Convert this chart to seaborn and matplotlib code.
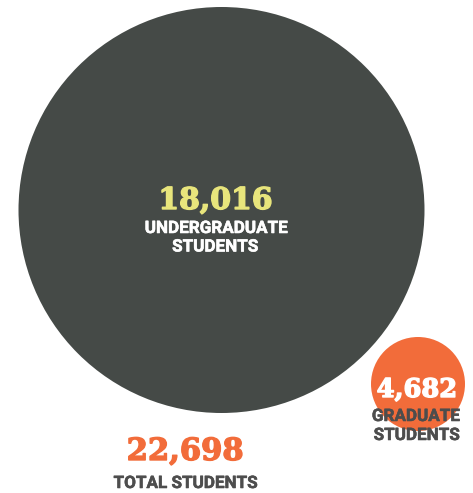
import matplotlib
matplotlib.use("Agg")
import matplotlib.pyplot as plt
import matplotlib.patheffects as pe
import seaborn as sns
import pandas as pd

# ---- data ----
groups = ["Undergraduate", "Graduate"]
counts = [18016, 4682]
total = 22698
number_labels = ["18,016", "4,682"]
sub_labels = ["UNDERGRADUATE\nSTUDENTS", "GRADUATE\nSTUDENTS"]
total_label = "22,698"
total_sub = "TOTAL STUDENTS"

# ---- layout / style (pixels in a 473x493 canvas) ----
W, H = 473, 493
centers = {"Undergraduate": (221.5, 210), "Graduate": (418, 384)}
radii = {"Undergraduate": 203, "Graduate": 47}
palette = {"Undergraduate": "#454a47", "Graduate": "#f26c3a"}
px2pt = 72 / 100

df = pd.DataFrame({"group": groups, "count": counts})
df["x"] = df["group"].map(lambda g: centers[g][0])
df["y"] = df["group"].map(lambda g: centers[g][1])
size_map = {c: (2 * radii[g] * px2pt) ** 2 for g, c in zip(groups, counts)}

sns.set_theme(style="white")
fig = plt.figure(figsize=(W / 100, H / 100), dpi=100)
fig.patch.set_facecolor("white")
ax = fig.add_axes([0, 0, 1, 1])
sns.scatterplot(data=df, x="x", y="y", hue="group", palette=palette,
                size="count", sizes=size_map, legend=False, linewidth=0,
                ax=ax, zorder=2)
ax.set_xlim(0, W)
ax.set_ylim(H, 0)
ax.set_axis_off()

num_font = dict(family=["DejaVu Serif"], weight="bold")
lab_font = dict(family=["Roboto", "DejaVu Sans"], weight="bold")


def heavy(color, w):
    return [pe.withStroke(linewidth=w, foreground=color)]


# undergraduate labels
ax.text(215.5, 209, number_labels[0], color="#e8e57c", fontsize=21.5,
        ha="center", va="baseline", zorder=3,
        path_effects=heavy("#e8e57c", 1.0), **num_font)
ax.text(216.5, 233, "UNDERGRADUATE", color="white", fontsize=12.3,
        ha="center", va="baseline", zorder=3,
        path_effects=heavy("white", 0.4), **lab_font)
ax.text(215.5, 251.5, "STUDENTS", color="white", fontsize=12.3,
        ha="center", va="baseline", zorder=3,
        path_effects=heavy("white", 0.4), **lab_font)

# graduate labels
ax.text(417, 397, number_labels[1], color="white", fontsize=18.5,
        ha="center", va="baseline", zorder=3,
        path_effects=heavy("white", 1.0), **num_font)
ax.text(416, 421, "GRADUATE", color="#4d4d4d", fontsize=12.3,
        ha="center", va="baseline", zorder=3,
        path_effects=heavy("#4d4d4d", 0.4), **lab_font)
ax.text(417, 440, "STUDENTS", color="#4d4d4d", fontsize=12.3,
        ha="center", va="baseline", zorder=3,
        path_effects=heavy("#4d4d4d", 0.4), **lab_font)

# total
ax.text(185, 460, total_label, color="#f26c3a", fontsize=22,
        ha="center", va="baseline", zorder=3,
        path_effects=heavy("#f26c3a", 1.0), **num_font)
ax.text(186, 488, total_sub, color="#4d4d4d", fontsize=12.3,
        ha="center", va="baseline", zorder=3,
        path_effects=heavy("#4d4d4d", 0.4), **lab_font)

fig.savefig("out.png", dpi=100, facecolor="white")
